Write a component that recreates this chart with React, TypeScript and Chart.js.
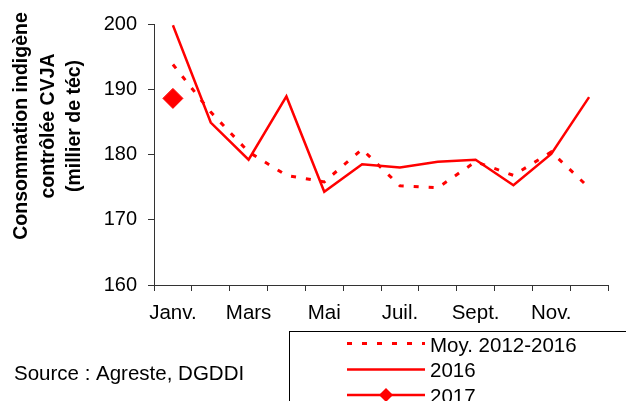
import React, { useEffect, useRef } from "react";
import { Chart, registerables } from "chart.js";

Chart.register(...registerables);

const months = ["Janv.", "Févr.", "Mars", "Avr.", "Mai", "Juin", "Juil.", "Août", "Sept.", "Oct.", "Nov.", "Déc."];
const moy20122016 = [193.8, 186.5, 180.4, 176.8, 175.8, 180.8, 175.2, 174.9, 178.9, 176.8, 180.4, 174.9];
const values2016 = [199.8, 184.9, 179.2, 188.9, 174.3, 178.5, 178.0, 178.9, 179.2, 175.3, 180.1, 188.8];
const values2017 = [188.6, null, null, null, null, null, null, null, null, null, null, null];
const seriesNames = ["Moy. 2012-2016", "2016", "2017"];
const yTicks = { min: 160, max: 200, step: 10 };
const yTitleLines = ["Consommation indigène", "contrôlée CVJA", "(millier de téc)"];
const sourceText = "Source : Agreste, DGDDI";

const FONT = "'Liberation Sans', Arial, sans-serif";
const RED = "#ff0000";
const AXIS = "#333333";

const overlayPlugin = {
  id: "overlay",
  afterDraw(chart: any) {
    const ctx = chart.ctx as CanvasRenderingContext2D;
    ctx.save();
    // Y axis title (three centred lines)
    ctx.fillStyle = "#000";
    ctx.font = `bold 19.5px ${FONT}`;
    ctx.textAlign = "center";
    ctx.textBaseline = "middle";
    const xs = [22, 48.5, 75];
    yTitleLines.forEach((line, i) => {
      ctx.save();
      ctx.translate(xs[i], 126);
      ctx.rotate(-Math.PI / 2);
      ctx.fillText(line, 0, 0);
      ctx.restore();
    });
    // Source
    ctx.font = `20.5px ${FONT}`;
    ctx.textAlign = "left";
    ctx.textBaseline = "alphabetic";
    ctx.fillText(sourceText, 14, 380);
    // Legend box
    ctx.strokeStyle = "#000";
    ctx.lineWidth = 1;
    ctx.strokeRect(289.5, 331.5, 600, 200);
    const rows = [343.5, 369.5, 395];
    const baselines = [351.5, 377, 402.5];
    chart.data.datasets.forEach((ds: any, i: number) => {
      const y = rows[i];
      ctx.save();
      ctx.strokeStyle = ds.borderColor;
      ctx.lineWidth = ds.borderWidth;
      ctx.setLineDash(ds.borderDash || []);
      ctx.beginPath();
      ctx.moveTo(347, y);
      ctx.lineTo(425, y);
      ctx.stroke();
      ctx.restore();
      if (ds.pointRadius > 0) {
        ctx.save();
        ctx.fillStyle = ds.pointBackgroundColor;
        ctx.beginPath();
        const r = 7;
        ctx.moveTo(386 - r, y);
        ctx.lineTo(386, y - r);
        ctx.lineTo(386 + r, y);
        ctx.lineTo(386, y + r);
        ctx.closePath();
        ctx.fill();
        ctx.restore();
      }
      ctx.fillStyle = "#000";
      ctx.fillText(seriesNames[i], 430, baselines[i]);
    });
    ctx.restore();
  },
};

export default function App() {
  const ref = useRef<HTMLCanvasElement | null>(null);
  useEffect(() => {
    if (!ref.current) return;
    const chart = new Chart(ref.current, {
      type: "line",
      data: {
        labels: months,
        datasets: [
          {
            label: seriesNames[0],
            data: moy20122016,
            borderColor: RED,
            backgroundColor: RED,
            borderWidth: 3,
            borderDash: [5, 10],
            pointRadius: 0,
            tension: 0,
            order: 2,
          },
          {
            label: seriesNames[1],
            data: values2016,
            borderColor: RED,
            backgroundColor: RED,
            borderWidth: 2.5,
            pointRadius: 0,
            tension: 0,
            order: 1,
          },
          {
            label: seriesNames[2],
            data: values2017,
            borderColor: RED,
            backgroundColor: RED,
            pointBackgroundColor: RED,
            pointBorderColor: RED,
            borderWidth: 2.5,
            pointStyle: "rectRot",
            pointRadius: 10,
            pointBorderWidth: 1,
            tension: 0,
            order: 0,
          },
        ] as any,
      },
      options: {
        responsive: false,
        animation: false,
        layout: { padding: { left: 0, right: 18, top: 24, bottom: 0 } },
        plugins: { legend: { display: false }, tooltip: { enabled: false } },
        scales: {
          x: {
            type: "category",
            offset: true,
            afterFit: (s: any) => {
              s.height = 116;
            },
            grid: {
              display: true,
              drawOnChartArea: false,
              drawTicks: true,
              tickLength: 6,
              color: AXIS,
              offset: true,
            },
            border: { display: true, color: AXIS, width: 1 },
            ticks: {
              autoSkip: false,
              maxRotation: 0,
              minRotation: 0,
              padding: 10,
              color: "#000",
              font: { family: FONT, size: 20.5 },
              callback: (_v: any, i: number) => (i % 2 === 0 ? months[i] : ""),
            },
          },
          y: {
            min: yTicks.min,
            max: yTicks.max,
            afterFit: (s: any) => {
              s.width = 154;
            },
            grid: {
              display: true,
              drawOnChartArea: false,
              drawTicks: true,
              tickLength: 6,
              color: AXIS,
            },
            border: { display: true, color: AXIS, width: 1 },
            ticks: {
              stepSize: yTicks.step,
              padding: 11,
              color: "#000",
              font: { family: FONT, size: 20 },
            },
          },
        },
      },
      plugins: [overlayPlugin],
    } as any);
    return () => chart.destroy();
  }, []);
  return (
    <div style={{ position: "absolute", left: 0, top: 0, width: 626, height: 401, background: "#fff" }}>
      <canvas ref={ref} width={626} height={401} style={{ display: "block" }} />
    </div>
  );
}
